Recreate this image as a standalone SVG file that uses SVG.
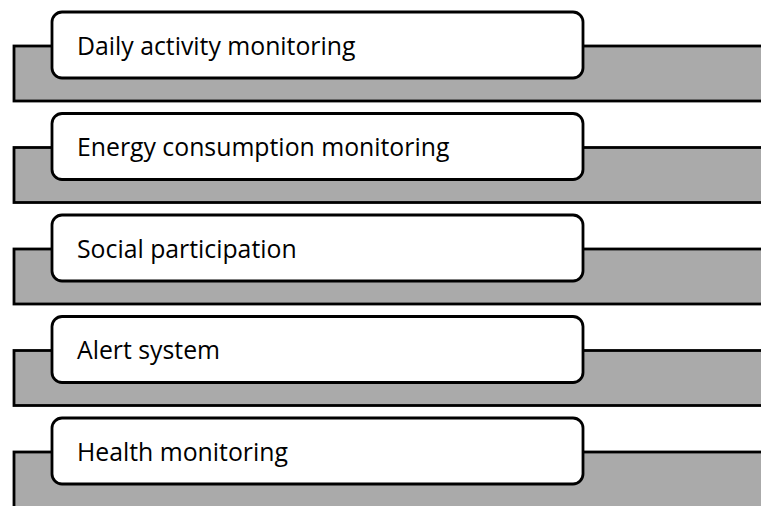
<svg xmlns="http://www.w3.org/2000/svg" width="761" height="506" viewBox="0 0 761 506">
<style>
.band{fill:#aaaaaa;stroke:#000;stroke-width:2.8}
.box{fill:#fff;stroke:#000;stroke-width:2.8}
.lbl{font-family:"Open Sans","Liberation Sans",sans-serif;font-size:24.8px;fill:#000}
</style>
<rect width="761" height="506" fill="#fff"/>
<g id="node1">
<rect class="band" x="14" y="46" width="760" height="55"/>
<rect class="box" x="52" y="12" width="531" height="66" rx="10"/>
<text class="lbl" x="77" y="54.5">Daily activity monitoring</text>
</g>
<g id="node2">
<rect class="band" x="14" y="147.5" width="760" height="55"/>
<rect class="box" x="52" y="113.5" width="531" height="66" rx="10"/>
<text class="lbl" x="77" y="156">Energy consumption monitoring</text>
</g>
<g id="node3">
<rect class="band" x="14" y="249" width="760" height="55"/>
<rect class="box" x="52" y="215" width="531" height="66" rx="10"/>
<text class="lbl" x="77" y="257.5">Social participation</text>
</g>
<g id="node4">
<rect class="band" x="14" y="350.5" width="760" height="55"/>
<rect class="box" x="52" y="316.5" width="531" height="66" rx="10"/>
<text class="lbl" x="77" y="359">Alert system</text>
</g>
<g id="node5">
<rect class="band" x="14" y="452" width="760" height="60"/>
<rect class="box" x="52" y="418" width="531" height="66" rx="10"/>
<text class="lbl" x="77" y="460.5">Health monitoring</text>
</g>
<g id="connectors"></g>
</svg>
